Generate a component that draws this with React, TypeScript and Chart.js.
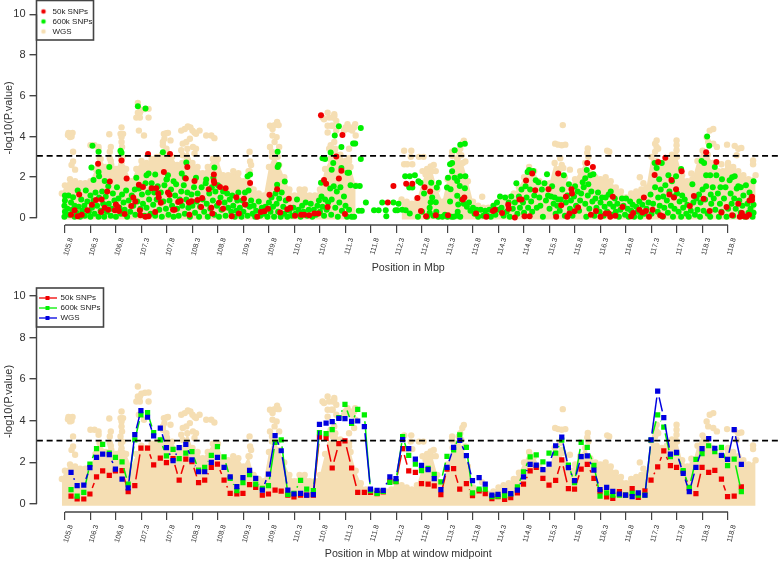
import React, { useEffect, useRef } from "react";
import { Chart, registerables } from "chart.js";

Chart.register(...registerables);

type P = [number, number];

const xTickValues = [105.8,106.3,106.8,107.3,107.8,108.3,108.8,109.3,109.8,110.3,110.8,111.3,111.8,112.3,112.8,113.3,113.8,114.3,114.8,115.3,115.8,116.3,116.8,117.3,117.8,118.3,118.8];
const yTickValues = [0,2,4,6,8,10];
const thresholdY = 3.05;
const thresholdX = [105.25,119.81];

const windowMid = [105.92,106.04,106.17,106.29,106.42,106.54,106.67,106.79,106.92,107.04,107.17,107.29,107.42,107.54,107.67,107.79,107.92,108.04,108.17,108.29,108.42,108.54,108.67,108.79,108.92,109.04,109.17,109.29,109.42,109.54,109.67,109.79,109.92,110.04,110.17,110.29,110.42,110.54,110.67,110.79,110.92,111.04,111.17,111.29,111.42,111.54,111.67,111.79,111.92,112.04,112.17,112.29,112.42,112.54,112.67,112.79,112.92,113.04,113.17,113.29,113.42,113.54,113.67,113.79,113.92,114.04,114.17,114.29,114.42,114.54,114.67,114.79,114.92,115.04,115.17,115.29,115.42,115.54,115.67,115.79,115.92,116.04,116.17,116.29,116.42,116.54,116.67,116.79,116.92,117.04,117.17,117.29,117.42,117.54,117.67,117.79,117.92,118.04,118.17,118.29,118.42,118.54,118.67,118.79,118.92,119.06];
const windowWgs = [1.52,.88,.91,1.75,2.24,2.4,2.37,1.68,1.2,.77,3.33,4.49,4.17,3.27,3.65,2.71,2.08,2.71,2.87,2.12,1.55,1.55,2,2.24,1.76,1.3,.83,1.27,1.62,1.23,.67,1.44,3.29,2.56,.67,.48,.51,.43,.45,3.83,3.89,3.96,4.12,4.1,3.97,3.99,3.72,.72,.66,.66,1.3,1.22,3.09,2.66,2.16,1.86,1.65,1.22,.69,1.76,2.72,3.06,2.32,1.12,1.27,.96,.43,.46,.64,.5,.67,1.3,1.91,1.87,1.65,1.92,2.8,3.22,1.75,1.12,2.28,2.31,1.63,.69,.8,.61,.48,.43,.35,.54,.42,3.08,5.43,4.15,2.4,2.48,1.47,.59,1.76,2.66,3.14,2.68,2.34,2.15,3.57,1.91];
const window600k = [.69,.38,.56,1.92,2.66,2.87,2.45,2.24,2.02,.96,3.08,4.29,4.39,3.43,3.08,2.31,2.63,2.18,2.44,2.52,1.63,1.76,2.34,2.76,2.26,1.23,.64,1.03,1.41,.96,.75,.88,2.96,3.08,.46,.51,1.14,.72,.64,3.43,3.38,3.57,4.15,4.79,3.88,4.55,4.29,.64,.51,.61,1.04,1.07,3.24,2.34,1.92,1.6,1.71,1.43,1.06,2.29,2.6,3.32,2.72,.54,.72,.71,.35,.38,.4,.48,.82,1.55,2.26,2.36,2.02,2.44,2.44,3.07,1.87,1.03,2.96,2.72,1.86,.38,.54,.43,.43,.43,.51,.43,.43,3.07,4.28,3.7,2.28,2.44,1.6,.8,2.15,2.42,2.8,2.52,2.72,1.84,2.16,.59];
const window50k = [.38,.24,.24,.48,1.3,1.59,1.38,1.59,1.6,.6,.88,2.69,2.69,1.88,2.2,1.99,2.18,1.15,2.16,2.04,1.03,1.15,1.76,1.92,1.15,.51,.48,.51,.93,.8,.42,.48,.67,.62,.43,.34,.42,.43,.43,3.21,3.16,1.73,2.9,3.04,1.73,.56,.56,.56,.5,.58,1.1,1.07,2.66,1.59,1.52,.98,.95,.87,.45,1.67,1.7,.72,.98,.4,.63,.5,.26,.35,.22,.3,.54,.96,1.59,1.76,1.23,.91,1.14,2.12,.74,.71,1.68,1.91,1.23,.59,.34,.27,.59,.43,.74,.32,.63,1.15,1.79,2.55,1.84,1.76,1.55,.75,.5,1.76,1.52,1.62,1.2,.35,.38,.82];

const wgsBodyX = [105.74,105.8,105.9,106,106.1,106.2,106.3,106.4,106.5,106.6,106.7,106.8,106.9,107,107.1,107.2,107.3,107.4,107.5,107.6,107.7,107.8,107.9,108,108.1,108.2,108.3,108.4,108.5,108.6,108.7,108.8,108.9,109,109.1,109.2,109.3,109.4,109.5,109.6,109.7,109.8,109.9,110,110.1,110.2,110.3,110.4,110.5,110.6,110.7,110.8,110.9,111,111.1,111.2,111.3,111.4,111.5,111.6,111.7,111.8,111.9,112,112.1,112.2,112.3,112.4,112.5,112.6,112.7,112.8,112.9,113,113.1,113.2,113.3,113.4,113.5,113.6,113.7,113.8,113.9,114,114.1,114.2,114.3,114.4,114.5,114.6,114.7,114.8,114.9,115,115.1,115.2,115.3,115.4,115.5,115.6,115.7,115.8,115.9,116,116.1,116.2,116.3,116.4,116.5,116.6,116.7,116.8,116.9,117,117.1,117.2,117.3,117.4,117.5,117.6,117.7,117.8,117.9,118,118.1,118.2,118.3,118.4,118.5,118.6,118.7,118.8,118.9,119,119.1,119.2,119.34];
const wgsBodyY = [1.2,1.6,1.9,1.8,1.7,1.7,1.8,2.4,2.9,2.5,2.8,2.4,2.9,2.4,1.8,2.4,2.8,2.7,2.9,3,3.1,3.2,3,2.6,2.7,3.4,2.7,2.5,2.2,2.5,2.9,2.9,2.1,2.1,2.3,2.2,1.8,2.3,1.4,1.2,1.1,2.5,3.1,2.6,2,1.4,1.1,1.4,1.4,1.1,1.1,1.4,2.4,2.9,3.4,3.1,2.8,2.5,1.6,1,.7,.6,.6,.6,.6,.7,.8,.9,.8,.7,.9,1.7,2.4,2.3,1.4,.8,1.9,2.7,2.9,2.7,1.8,.8,.6,.5,.5,.6,.8,.9,1,1.2,1.5,2,2.5,2.3,1.8,1.6,1.7,2.7,2.4,2,1.6,1.9,2.3,2.7,2.2,2,1.9,2,1.8,1.5,1.3,1,1.2,1.3,1.4,1.5,3,2.8,2.7,2.8,3.1,3,2.1,1.8,1.9,2.8,3.3,3.1,2.7,2.3,2.3,2.7,2.5,2.3,2.1,1.9,2.1];

const wgsPeaks: P[] = [[105.87,4.18],[105.91,4.13],[105.95,4.18],[105.9,3.97],[105.93,4],[105.86,4.08],[105.96,3.25],[105.93,2.6],[106,2.37],[105.96,2.77],[106.46,3.49],[106.46,3.33],[106.48,2.93],[106.38,3.57],[106.3,3.57],[106.67,4.11],[106.7,3.49],[106.68,3.25],[106.68,2.93],[106.71,2.6],[106.91,4.45],[106.89,4.13],[106.94,4.13],[106.91,3.97],[106.91,3.73],[106.92,3.49],[106.89,3.25],[106.93,3],[106.91,2.68],[106.94,2.45],[107.23,5.17],[107.2,4.93],[107.27,4.93],[107.27,5.17],[107.44,4.93],[107.44,5.36],[107.23,5.65],[107.35,4.05],[107.25,4.29],[107.3,5.3],[107.37,5.35],[107.79,4.16],[107.74,4.13],[107.75,3.89],[107.72,3.73],[107.87,3.81],[107.72,3.57],[107.82,4.18],[107.79,3.4],[107.82,2.93],[108.08,4.29],[108.15,4.37],[108.21,4.5],[108.26,4.45],[108.3,4.29],[108.34,4.2],[108.44,4.29],[108.37,4.13],[108.25,3.89],[108.18,3.73],[108.11,3.65],[108.08,3.33],[108.11,3.08],[108.31,3.49],[108.37,3.4],[108.34,3.17],[108.57,4.05],[108.67,4.05],[108.73,3.92],[108.76,2.93],[108.77,2.77],[109.42,3.25],[109.43,2.77],[109.45,2.6],[109.42,2.29],[109.82,4.53],[109.91,4.56],[109.96,4.72],[109.99,4.56],[109.87,4.37],[109.95,3.97],[109.87,4.05],[109.82,3.49],[110,3.49],[109.91,3.73],[109.86,3.25],[109.86,3],[109.97,3],[110.85,4.93],[110.95,5.17],[110.98,4.93],[111.08,5],[111.05,4.93],[110.88,4.85],[111.05,4.53],[111.08,5.1],[111.12,4.77],[110.95,4.53],[111.02,4.53],[110.95,4.2],[111.12,4.29],[111.01,3.57],[111.08,3.73],[110.98,3.4],[111.05,3.25],[111.34,4.61],[111.4,4.45],[111.47,4.45],[111.3,4.45],[111.36,4.37],[111.49,4.61],[111.27,4.29],[111.43,4.29],[111.5,4.05],[111.47,3.65],[111.37,3.4],[111.37,2.93],[111.37,2.77],[111.34,2.45],[112.45,3.3],[112.59,3.3],[112.58,3],[112.45,2.64],[112.51,2.64],[112.61,2.64],[112.74,3],[112.83,3],[112.97,2.53],[113.03,2.6],[113.07,2.3],[112.81,2.3],[112.87,2.13],[113.39,3.25],[113.39,3.05],[113.52,3.25],[113.62,3.8],[113.59,3.65],[113.55,3.4],[113.57,3.08],[113.49,2.93],[113.65,2.77],[113.98,1.04],[115.56,4.56],[115.41,3.65],[115.47,3.6],[115.54,3.57],[115.61,3.6],[115.51,2.93],[115.54,2.6],[115.57,2.45],[115.7,2.37],[116.05,3.41],[116.04,3.2],[116.06,3],[116.43,3.3],[116.47,3.25],[117.07,2],[117.14,1.7],[117.4,3.81],[117.37,3.65],[117.4,3.49],[117.43,3.4],[117.37,3.25],[117.79,3.81],[117.79,3.57],[117.79,3.33],[117.77,3.08],[118.51,4.37],[118.44,4.29],[118.38,3.97],[118.41,3.73],[118.51,3.65],[118.58,3.49],[118.78,3.6],[118.93,3.54],[119,3.4],[119.06,3.44],[118.97,3.08],[119.29,2.82],[119.29,2.64],[118.67,2.64],[118.8,2.56],[118.08,2.18]];

const top50k: P[] = [[105.92,.16],[105.99,.37],[106.05,.08],[106.08,1.15],[106.13,.16],[106.24,.37],[106.33,.64],[106.41,.88],[106.45,2.66],[106.51,.29],[106.52,.9],[106.58,.5],[106.63,1.3],[106.65,.4],[106.68,1.79],[106.78,.37],[106.8,.66],[106.84,.53],[106.86,.34],[106.91,2.82],[106.97,.19],[107.01,1.94],[107.1,.58],[107.14,1],[107.18,.8],[107.25,1.63],[107.27,.37],[107.28,.13],[107.33,1.52],[107.38,.05],[107.43,3.14],[107.44,.08],[107.5,1.46],[107.57,.29],[107.59,1.46],[107.63,1.2],[107.64,1],[107.68,.74],[107.74,2.26],[107.82,1.25],[107.85,1.14],[107.86,3.14],[107.92,.4],[107.95,.4],[108.02,.78],[108.07,.83],[108.17,1.94],[108.2,2.5],[108.24,.16],[108.23,.75],[108.28,.82],[108.34,1.81],[108.4,.88],[108.47,.53],[108.49,.98],[108.62,1.41],[108.67,.5],[108.69,.21],[108.72,2.13],[108.72,1.81],[108.73,1.71],[108.82,.74],[108.84,1.52],[108.9,.45],[108.95,1.46],[109.07,.08],[109.16,1.01],[109.21,.21],[109.31,.94],[109.33,.66],[109.43,1.71],[109.57,.05],[109.64,.29],[109.71,.32],[109.78,.45],[109.81,1.14],[109.96,1.41],[110.02,.27],[110.16,.42],[110.19,.94],[110.22,.5],[110.31,.1],[110.43,.16],[110.49,.16],[110.59,.13],[110.69,.21],[110.77,.21],[110.82,5.04],[110.88,1.86],[110.92,1.68],[110.95,.54],[111.12,3.02],[111.17,1.94],[111.22,2.32],[111.24,4.08],[111.29,.19],[112.13,.75],[112.24,1.57],[112.49,1.68],[112.61,1.68],[112.71,.98],[112.78,.34],[112.85,1.5],[112.88,.08],[112.96,1.3],[113.07,.13],[113.31,.13],[113.6,.9],[113.63,1],[113.86,.21],[114.06,.05],[114.19,.34],[114.23,.4],[114.37,.24],[114.49,.64],[114.5,.45],[114.62,.02],[114.71,.9],[114.75,.9],[114.81,.08],[114.84,1.84],[114.91,.08],[114.96,2.18],[115.02,1.36],[115.28,1.41],[115.43,.05],[115.47,2.18],[115.53,.62],[115.62,1.04],[115.65,.05],[115.69,.21],[115.73,1.41],[115.74,1.2],[115.79,.32],[115.86,.51],[116.04,2.7],[116.11,.16],[116.15,2.5],[116.21,.34],[116.3,.05],[116.4,.21],[116.46,.21],[116.49,.05],[116.54,1.04],[116.59,.11],[116.73,.54],[116.9,.08],[116.94,.24],[117.06,.4],[117.12,.27],[117.15,1],[117.19,.34],[117.25,.05],[117.32,.4],[117.36,2.11],[117.43,2.75],[117.47,.13],[117.52,.08],[117.57,2.96],[117.65,1.15],[117.69,1.86],[117.74,1],[117.78,1.41],[117.89,2.29],[118.05,.59],[118.13,1.07],[118.32,.94],[118.37,3.23],[118.44,.34],[118.57,2.75],[118.67,.27],[118.77,.54],[118.88,.13],[119,.69],[119.03,.05],[119.07,.24],[119.11,.08],[119.16,.05],[119.21,.16],[119.22,.85],[119.27,1.04],[119.27,.88]];

const top600kUpper: P[] = [[106.34,3.55],[106.46,3.25],[106.32,2.48],[106.46,2.26],[106.47,2.05],[106.36,1.86],[106.67,2.5],[106.58,1.81],[106.89,3.3],[106.91,3.2],[107.2,1.97],[107.23,5.49],[107.38,5.38],[107.44,2.18],[107.4,2.1],[107.57,2.13],[107.72,3.23],[107.82,2.1],[107.79,1.89],[107.93,1.8],[108.09,2.18],[108.18,2.72],[108.15,1.97],[108.37,1.97],[108.57,1.89],[108.73,2.48],[108.71,1.97],[109.43,2.13],[109.38,2.05],[109.97,3.25],[109.99,2.6],[109.97,2.5],[109.96,1.63],[110.11,1.79],[110.85,2.93],[110.9,2.9],[110.82,1.73],[111.01,3.22],[111.09,4.05],[111.06,2.7],[111.03,2.37],[111.17,4.51],[111.22,3.49],[111.22,2.45],[111.34,2.22],[111.37,2.22],[111.45,3.66],[111.49,3.66],[111.6,4.42],[111.6,2.9],[111.4,1.6],[111.5,1.57],[111.58,1.57],[111.7,.75],[111.86,.37],[111.95,.37],[112.02,.75],[112.09,.37],[112.1,.08],[112.24,.75],[112.28,.37],[112.34,.69],[112.32,.37],[112.41,.4],[112.48,.37],[112.56,.21],[112.47,2.05],[112.56,2.05],[112.66,2.1],[112.55,1.49],[112.61,1.49],[112.73,1.8],[112.77,1.73],[112.98,1.73],[113.13,1.73],[113.09,1.49],[112.84,1.2],[113,1],[112.97,.77],[113.07,.77],[112.95,.5],[113.44,3.33],[113.55,3.6],[113.64,3.65],[113.39,2.7],[113.35,2.64],[113.39,2.29],[113.31,1.97],[113.44,1.97],[113.55,2.05],[113.65,2.05],[113.29,1.49],[113.36,1.41],[113.49,1.81],[113.54,1.57],[113.49,1.09],[113.64,1.46],[113.51,.66]];

const top600kLower: P[] = [[105.79,.05],[105.8,.3],[105.79,.6],[105.8,.85],[105.8,1.1],[105.87,1.1],[105.85,.45],[105.88,.15],[105.92,.75],[105.94,.4],[105.96,1.02],[105.99,.05],[105.99,.6],[106.03,.25],[106.05,1.35],[106.07,.55],[106.1,.05],[106.12,.9],[106.14,.35],[106.18,.6],[106.19,.1],[106.21,1.35],[106.24,.8],[106.27,.3],[106.3,.05],[106.3,1.1],[106.33,.5],[106.36,.85],[106.38,.2],[106.4,1.25],[106.43,.6],[106.46,.05],[106.47,1],[106.5,.35],[106.53,1.3],[106.55,.7],[106.57,.05],[106.6,1.05],[106.62,.3],[106.65,1.55],[106.66,.7],[106.7,.1],[106.72,.45],[106.74,1.2],[106.77,.85],[106.8,.05],[106.82,1.5],[106.85,.95],[106.87,.5],[106.9,.2],[106.92,1.15],[106.95,.75],[106.97,.4],[107,1.35],[107.02,.05],[107.05,.85],[107.08,.3],[107.11,1.1],[107.14,.6],[107.17,1.4],[107.18,.15],[107.22,.8],[107.25,1.45],[107.28,.45],[107.31,1.15],[107.33,.7],[107.36,.1],[107.38,1.7],[107.4,.5],[107.43,1.25],[107.45,.9],[107.48,.2],[107.5,1.7],[107.53,.65],[107.55,1.25],[107.57,.1],[107.6,.9],[107.62,1.55],[107.65,.4],[107.68,1.25],[107.7,.05],[107.73,.8],[107.75,1.6],[107.78,.45],[107.8,1.9],[107.83,.15],[107.85,.85],[107.88,1.4],[107.9,.6],[107.93,.05],[107.96,1.1],[107.98,1.65],[108,.45],[108.03,.1],[108.05,.9],[108.08,1.3],[108.1,.6],[108.13,1.6],[108.15,.2],[108.18,.9],[108.2,1.25],[108.22,.5],[108.25,.05],[108.28,1.15],[108.3,.6],[108.33,1.5],[108.35,.25],[108.38,.8],[108.4,1.2],[108.43,.05],[108.45,.55],[108.48,1.5],[108.5,.9],[108.53,.3],[108.56,1.7],[108.58,.7],[108.6,.05],[108.63,1.2],[108.65,.45],[108.68,1.5],[108.7,.85],[108.73,.15],[108.75,1.3],[108.78,.6],[108.8,1.6],[108.82,.05],[108.85,1],[108.87,.4],[108.9,1.3],[108.93,.75],[108.95,.1],[108.98,1.2],[109,.5],[109.03,.9],[109.06,.3],[109.08,1.1],[109.1,.6],[109.13,.05],[109.16,.35],[109.18,.85],[109.2,1.25],[109.23,.5],[109.26,.05],[109.28,.85],[109.3,.3],[109.33,1.25],[109.36,.65],[109.38,.1],[109.4,1.35],[109.42,.55],[109.45,.85],[109.48,.2],[109.5,.6],[109.53,.05],[109.55,.35],[109.6,.8],[109.63,.1],[109.66,.5],[109.7,.2],[109.73,.55],[109.77,.05],[109.8,.75],[109.83,.3],[109.85,1],[109.88,.55],[109.9,.05],[109.93,1.2],[109.95,.7],[109.98,.3],[110,.95],[110.03,.05],[110.05,1.25],[110.08,.55],[110.1,.2],[110.13,.85],[110.16,.05],[110.2,.35],[110.25,.1],[110.28,.5],[110.32,.2],[110.35,.9],[110.38,.4],[110.42,.05],[110.45,.6],[110.48,.3],[110.52,.75],[110.55,.1],[110.58,.4],[110.62,.7],[110.65,.05],[110.68,.4],[110.72,.15],[110.75,.6],[110.78,.85],[110.8,.3],[110.83,1.05],[110.85,.55],[110.88,.1],[110.9,.9],[110.93,.4],[110.96,.75],[111,1.45],[111.02,.15],[111.03,.9],[111.07,1.55],[111.1,.5],[111.13,1.3],[111.15,.05],[111.18,.75],[111.2,1.5],[111.23,.35],[111.27,1.05],[111.3,.6],[111.33,.05],[111.37,.4],[111.42,.05],[111.47,.05],[111.56,.35],[111.62,.35],[112.72,.05],[112.8,.3],[112.9,.05],[112.95,.25],[113.02,.1],[113.08,.3],[113.12,.05],[113.2,.05],[113.25,.15],[113.3,.05],[113.35,.8],[113.38,.05],[113.42,.05],[113.48,.1],[113.5,.3],[113.55,.05],[113.58,.9],[113.62,.7],[113.68,.55],[113.72,.75],[113.75,.35],[113.8,.5],[113.83,.2],[113.87,.4],[113.9,.05],[113.95,.4],[114,.1],[114.04,.35],[114.08,.1],[114.12,.4],[114.15,.05],[114.2,.6],[114.24,.15],[114.27,.75],[114.3,.4],[114.33,1.05],[114.36,.5],[114.4,.1],[114.43,1],[114.46,.3],[114.5,.75],[114.52,.05],[114.55,1.05],[114.58,.45],[114.62,.75],[114.65,1.7],[114.67,.2],[114.7,1.05],[114.72,.5],[114.75,1.4],[114.78,.75],[114.8,.25],[114.83,1.55],[114.85,1],[114.87,2.25],[114.88,.5],[114.9,2.35],[114.92,1.4],[114.94,.8],[114.96,.3],[114.98,2.3],[115,1.1],[115.03,1.85],[115.05,.5],[115.08,1.75],[115.1,1],[115.12,.6],[115.15,1.4],[115.17,.05],[115.2,1.7],[115.23,.85],[115.25,2.15],[115.27,1.1],[115.3,.45],[115.33,1.05],[115.35,1.55],[115.38,.7],[115.4,1],[115.42,.2],[115.45,.6],[115.47,.9],[115.5,.35],[115.52,.9],[115.55,1.4],[115.58,2.1],[115.6,.1],[115.62,.75],[115.65,1.1],[115.68,1.65],[115.7,.45],[115.72,.85],[115.75,.1],[115.78,1.05],[115.8,1.55],[115.82,.6],[115.85,1.3],[115.88,.35],[115.9,.85],[115.92,1.2],[115.95,1.75],[115.97,1.5],[116,.7],[116,1.95],[116.02,.05],[116.03,2.35],[116.05,1.1],[116.06,1.65],[116.08,.45],[116.1,2.1],[116.12,1.3],[116.14,.8],[116.16,2.15],[116.18,.1],[116.2,.95],[116.22,.5],[116.25,1.25],[116.28,.3],[116.3,.75],[116.33,1],[116.36,.1],[116.38,.55],[116.4,1],[116.43,.3],[116.46,1.15],[116.48,.7],[116.5,1.3],[116.53,.15],[116.55,.55],[116.58,.95],[116.6,.3],[116.63,.7],[116.66,.05],[116.69,.4],[116.72,.95],[116.75,.6],[116.78,.15],[116.8,.95],[116.83,.45],[116.85,.05],[116.88,.8],[116.9,.35],[116.93,.65],[116.96,.05],[117,.55],[117.03,.3],[117.06,.8],[117.08,.05],[117.12,.65],[117.16,.2],[117.2,.45],[117.24,.75],[117.28,1.15],[117.3,.2],[117.33,.7],[117.36,2.7],[117.37,1.5],[117.4,2.45],[117.42,.3],[117.43,1],[117.45,1.9],[117.46,.6],[117.48,1.4],[117.5,2.7],[117.52,.05],[117.53,1.05],[117.55,.5],[117.57,1.6],[117.6,.85],[117.62,.25],[117.63,2.1],[117.65,1.3],[117.68,.6],[117.7,1.8],[117.72,.05],[117.73,1.05],[117.75,.45],[117.78,2.05],[117.8,1.2],[117.83,.3],[117.85,.8],[117.88,.05],[117.88,2.4],[117.9,1.1],[117.92,.5],[117.95,.9],[117.98,.2],[118,.65],[118.03,.05],[118.07,.35],[118.1,1.65],[118.12,.75],[118.15,.15],[118.18,.95],[118.2,.4],[118.23,1.15],[118.25,.05],[118.26,.75],[118.28,2.8],[118.3,1.4],[118.32,.35],[118.33,2.7],[118.35,.9],[118.37,1.55],[118.39,4],[118.4,.2],[118.43,3.55],[118.45,.05],[118.46,1.15],[118.47,.7],[118.37,2.1],[118.45,2.1],[118.5,1.5],[118.52,.95],[118.54,2.5],[118.55,.4],[118.57,2.1],[118.6,1.2],[118.62,.05],[118.64,.7],[118.65,1.5],[118.67,.3],[118.68,1.9],[118.72,.95],[118.75,1.5],[118.77,.05],[118.8,.45],[118.83,1.85],[118.85,1.2],[118.87,.7],[118.88,2],[118.9,.1],[118.92,.95],[118.93,2.05],[118.95,.45],[118.97,1.45],[119,1.55],[119.02,.85],[119.05,.25],[119.05,1.5],[119.08,.6],[119.1,1.1],[119.13,.05],[119.15,1.6],[119.18,.7],[119.2,.25],[119.22,1.25],[119.24,.45],[119.26,1],[119.28,.05],[119.3,.65],[119.3,.25],[119.3,1.8]];

const RED = "#f00000";
const GREEN = "#00f000";
const BLUE = "#0000e0";
const WHEAT = "#f5deb3";
const INK = "#333333";
const AXIS = "#444444";
const FONT = "'Liberation Sans', Arial, sans-serif";
const X_MIN = 105.243;
const X_MAX = 119.818;

const toPts = (xs: number[], ys: number[]) => xs.map((x, i) => ({ x, y: ys[i] }));
const pairs = (p: P[]) => p.map(([x, y]) => ({ x, y }));

function icon(w: number, color: string, mode: "dot" | "line") {
  const c = document.createElement("canvas");
  c.width = w;
  c.height = 8;
  const g = c.getContext("2d")!;
  g.fillStyle = color;
  g.strokeStyle = color;
  if (mode === "dot") {
    g.beginPath();
    g.arc(w / 2, 4, 2.3, 0, Math.PI * 2);
    g.fill();
  } else {
    g.lineWidth = 1.3;
    g.beginPath();
    g.moveTo(0, 4);
    g.lineTo(w, 4);
    g.stroke();
    g.fillRect(w / 2 - 2, 2, 4, 4);
  }
  return c;
}

const rAxes = {
  id: "rAxes",
  beforeDraw(chart: any, _a: any, o: any) {
    chart.legend.top = o.legendTop;
  },
  afterDraw(chart: any, _a: any, o: any) {
    const { ctx, scales, chartArea } = chart;
    ctx.save();
    ctx.strokeStyle = AXIS;
    ctx.lineWidth = 1.4;
    ctx.beginPath();
    ctx.moveTo(chartArea.left, scales.y.getPixelForValue(yTickValues[0]));
    ctx.lineTo(chartArea.left, scales.y.getPixelForValue(yTickValues[yTickValues.length - 1]));
    ctx.moveTo(scales.x.getPixelForValue(xTickValues[0]), chartArea.bottom);
    ctx.lineTo(scales.x.getPixelForValue(xTickValues[xTickValues.length - 1]), chartArea.bottom);
    ctx.stroke();
    ctx.lineWidth = 1.6;
    ctx.strokeRect(chartArea.left, o.boxTop, o.boxWidth, o.boxHeight);
    ctx.restore();
  },
};

// R's type="b": each segment stops short of the markers at both ends.
const rBrokenLines = {
  id: "rBrokenLines",
  beforeDatasetDraw(chart: any, args: any) {
    const ds = chart.data.datasets[args.index];
    if (!ds.brokenLine) return;
    const pts = args.meta.data;
    const gap = 6.5;
    const { ctx } = chart;
    ctx.save();
    ctx.strokeStyle = ds.backgroundColor;
    ctx.lineWidth = 1.5;
    for (let i = 0; i + 1 < pts.length; i++) {
      const dx = pts[i + 1].x - pts[i].x;
      const dy = pts[i + 1].y - pts[i].y;
      const len = Math.hypot(dx, dy);
      if (len <= 2 * gap) continue;
      const ux = dx / len;
      const uy = dy / len;
      ctx.beginPath();
      ctx.moveTo(pts[i].x + ux * gap, pts[i].y + uy * gap);
      ctx.lineTo(pts[i + 1].x - ux * gap, pts[i + 1].y - uy * gap);
      ctx.stroke();
    }
    ctx.restore();
  },
};

function options(p: {
  title: string; yMin: number; yMax: number; padTop: number; xHeight: number;
  titlePad: number; legendIconWidth: number; legendTop: number; boxTop: number; boxWidth: number; boxHeight: number;
  icons: Record<string, HTMLCanvasElement>;
}): any {
  return {
    responsive: false,
    animation: false,
    events: [],
    layout: { padding: { left: 0, right: 2, top: p.padTop, bottom: 0 } },
    plugins: {
      tooltip: { enabled: false },
      title: { display: false },
      rAxes: { legendTop: p.legendTop, boxTop: p.boxTop, boxWidth: p.boxWidth, boxHeight: p.boxHeight },
      legend: {
        position: "chartArea",
        align: "start",
        labels: {
          usePointStyle: true,
          pointStyleWidth: p.legendIconWidth,
          padding: 2,
          color: "#222222",
          font: { size: 8, family: FONT },
          sort: (a: any, b: any) => a.datasetIndex - b.datasetIndex,
          filter: (item: any) => item.text in p.icons,
          generateLabels: (chart: any) =>
            Chart.defaults.plugins.legend.labels.generateLabels(chart).map((l: any) => ({
              ...l,
              pointStyle: p.icons[l.text] ?? l.pointStyle,
            })),
        },
      },
    },
    scales: {
      x: {
        type: "linear",
        min: X_MIN,
        max: X_MAX,
        border: { display: false },
        grid: { drawOnChartArea: false, tickLength: 8, tickColor: AXIS, lineWidth: 1.2 },
        afterBuildTicks: (s: any) => { s.ticks = xTickValues.map((value) => ({ value })); },
        afterFit: (s: any) => { s.height = p.xHeight; },
        ticks: {
          autoSkip: false,
          minRotation: 74,
          maxRotation: 74,
          labelOffset: 6,
          padding: 4,
          color: INK,
          font: { size: 7.2, family: FONT },
          callback: (v: number) => v.toFixed(1),
        },
        title: {
          display: true,
          text: p.title,
          color: INK,
          font: { size: 10.7, family: FONT },
          padding: { top: 0, bottom: p.titlePad },
        },
      },
      y: {
        type: "linear",
        min: p.yMin,
        max: p.yMax,
        border: { display: false },
        grid: { drawOnChartArea: false, tickLength: 7, tickColor: AXIS, lineWidth: 1.4 },
        afterBuildTicks: (s: any) => { s.ticks = yTickValues.map((value) => ({ value })); },
        afterFit: (s: any) => { s.width = 36.5; },
        ticks: { padding: 4, color: INK, font: { size: 11, family: FONT } },
        title: {
          display: true,
          text: "-log10(P.value)",
          color: INK,
          font: { size: 11, family: FONT },
          padding: { top: 2, bottom: 0 },
        },
      },
    },
  };
}

const thresholdSet = (order: number) => ({
  type: "line",
  label: "threshold",
  data: toPts(thresholdX, [thresholdY, thresholdY]),
  borderColor: "#000000",
  borderWidth: 1.7,
  borderDash: [6, 3.8],
  pointRadius: 0,
  order,
});
const wgsBodySet = (label: string, order: number, data: any[]) => ({
  type: "line",
  label,
  data,
  borderWidth: 0,
  borderColor: WHEAT,
  backgroundColor: WHEAT,
  fill: { value: -0.08 },
  pointRadius: 3.2,
  pointBorderWidth: 0,
  pointBackgroundColor: WHEAT,
  order,
});
const wgsPeakSet = (order: number) => ({
  type: "scatter",
  label: "WGS peaks",
  data: pairs(wgsPeaks),
  pointRadius: 3.2,
  pointBorderWidth: 0,
  backgroundColor: WHEAT,
  order,
});
const dotSet = (label: string, data: any[], color: string, order: number) => ({
  type: "scatter",
  label,
  data,
  backgroundColor: color,
  pointRadius: 3,
  pointBorderWidth: 0,
  order,
});
const windowSet = (label: string, ys: number[], color: string, order: number) => ({
  type: "scatter",
  label,
  data: toPts(windowMid, ys),
  backgroundColor: color,
  pointStyle: "rect",
  pointRadius: 3.7,
  pointBorderWidth: 0,
  brokenLine: true,
  order,
});

export default function App() {
  const topRef = useRef<HTMLCanvasElement>(null);
  const botRef = useRef<HTMLCanvasElement>(null);

  useEffect(() => {
    Chart.defaults.font.family = FONT;
    const topBody = toPts(wgsBodyX, wgsBodyY).map((p) =>
      p.x > 111.55 && p.x < 112.35 ? { x: p.x, y: null } : p
    );
    const a = new Chart(topRef.current!, {
      type: "scatter",
      data: {
        datasets: [
          dotSet("50k SNPs", pairs(top50k), RED, 1),
          dotSet("600k SNPs", pairs([...top600kUpper, ...top600kLower]), GREEN, 2),
          wgsBodySet("WGS", 4, topBody),
          wgsPeakSet(3),
          thresholdSet(0),
        ],
      } as any,
      options: options({
        title: "Position in Mbp", yMin: -0.35, yMax: 10.19, padTop: 5.5, xHeight: 55, titlePad: 6,
        legendIconWidth: 10, legendTop: 5.5, boxTop: 0.5, boxWidth: 57, boxHeight: 39.5,
        icons: {
          "50k SNPs": icon(10, RED, "dot"),
          "600k SNPs": icon(10, GREEN, "dot"),
          WGS: icon(10, WHEAT, "dot"),
        },
      }),
      plugins: [rAxes],
    });
    const b = new Chart(botRef.current!, {
      type: "scatter",
      data: {
        datasets: [
          windowSet("50k SNPs", window50k, RED, 3),
          windowSet("600k SNPs", window600k, GREEN, 2),
          windowSet("WGS", windowWgs, BLUE, 1),
          wgsBodySet("WGS body", 5, toPts(wgsBodyX, wgsBodyY)),
          wgsPeakSet(4),
          thresholdSet(0),
        ],
      } as any,
      options: options({
        title: "Position in Mbp at window midpoint", yMin: -0.385, yMax: 10.24, padTop: 11, xHeight: 49, titlePad: 1,
        legendIconWidth: 18, legendTop: 12, boxTop: 8, boxWidth: 67, boxHeight: 39,
        icons: {
          "50k SNPs": icon(18, RED, "line"),
          "600k SNPs": icon(18, GREEN, "line"),
          WGS: icon(18, BLUE, "line"),
        },
      }),
      plugins: [rAxes, rBrokenLines],
    });
    return () => {
      a.destroy();
      b.destroy();
    };
  }, []);

  return (
    <div style={{ position: "absolute", left: 0, top: 0, width: 784, height: 561, background: "#fff" }}>
      <canvas ref={topRef} width={784} height={280} style={{ position: "absolute", left: 0, top: 0 }} />
      <canvas ref={botRef} width={784} height={281} style={{ position: "absolute", left: 0, top: 280 }} />
    </div>
  );
}
